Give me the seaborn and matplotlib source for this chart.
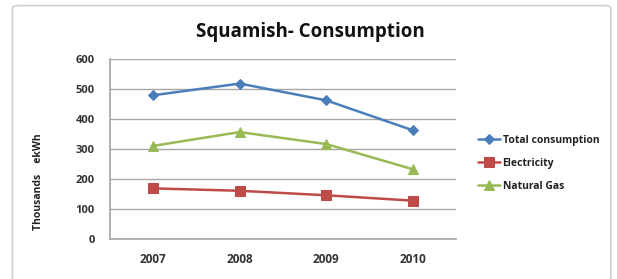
import matplotlib
matplotlib.use("Agg")
import matplotlib.pyplot as plt
import seaborn as sns
import pandas as pd
from matplotlib.patches import FancyBboxPatch

# values (thousands ekWh)
years = ["2007", "2008", "2009", "2010"]
total = [480, 519, 463, 363]
electricity = [169, 161, 146, 128]
natural_gas = [311, 357, 317, 233]
series_names = ["Total consumption", "Electricity", "Natural Gas"]
yticks = [0, 100, 200, 300, 400, 500, 600]

# long-form table for seaborn
df = pd.DataFrame({
    "year": years * 3,
    "value": total + electricity + natural_gas,
    "series": [s for s in series_names for _ in years],
})

colors = {"Total consumption": "#4A7EBB", "Electricity": "#BE4B48", "Natural Gas": "#98B954"}
markers = {"Total consumption": "D", "Electricity": "s", "Natural Gas": "^"}
sizes = {"Total consumption": 5, "Electricity": 7.5, "Natural Gas": 7}

sns.set_theme(style="white")
plt.rcParams["font.family"] = ["Open Sans", "DejaVu Sans"]

fig = plt.figure(figsize=(6.17, 2.79), dpi=100)
ax = fig.add_axes([0.1783, 0.1434, 0.5608, 0.644])

# chart frame
frame = FancyBboxPatch((0.02, -0.05), 0.97, 1.03, boxstyle="round,pad=0,rounding_size=0.01",
                       transform=fig.transFigure, facecolor="white", edgecolor="#D0D0D0",
                       linewidth=1.2, zorder=-10)
fig.patches.append(frame)

for name in series_names:
    sub = df[df["series"] == name]
    sns.lineplot(data=sub, x="year", y="value", ax=ax, color=colors[name],
                 marker=markers[name], markersize=sizes[name], markeredgecolor=colors[name],
                 linewidth=1.8, label=name, sort=False)

ax.set_xlim(-0.5, 3.5)
ax.set_ylim(0, 600)
ax.set_yticks(yticks)
ax.set_yticklabels([str(t) for t in yticks])
ax.yaxis.grid(True, color="#A6A6A6", linewidth=1)
ax.set_axisbelow(True)
for side in ["top", "right"]:
    ax.spines[side].set_visible(False)
ax.spines["left"].set_color("#A6A6A6")
ax.spines["bottom"].set_color("#A6A6A6")
ax.tick_params(axis="x", length=0, labelsize=8.5, colors="#333333", pad=10)
ax.tick_params(axis="y", length=0, labelsize=8, colors="#333333", pad=11)
for lab in ax.get_xticklabels() + ax.get_yticklabels():
    lab.set_fontweight("bold")

ax.set_xlabel("")
ax.set_ylabel("Thousands    ekWh", fontsize=7.5, fontweight="bold", color="#222222", labelpad=20)
ax.yaxis.set_label_coords(-0.19, 0.32)

fig.text(0.503, 0.885, "Squamish- Consumption", ha="center", va="center",
         fontsize=13.5, fontweight="bold", color="#111111")

leg = ax.legend(loc="center left", bbox_to_anchor=(1.035, 0.422), frameon=False,
                fontsize=7.5, handlelength=2.2, handletextpad=0.2, labelspacing=1.15)
for t in leg.get_texts():
    t.set_fontweight("bold")
    t.set_color("#222222")

fig.savefig("out.png", dpi=100)
